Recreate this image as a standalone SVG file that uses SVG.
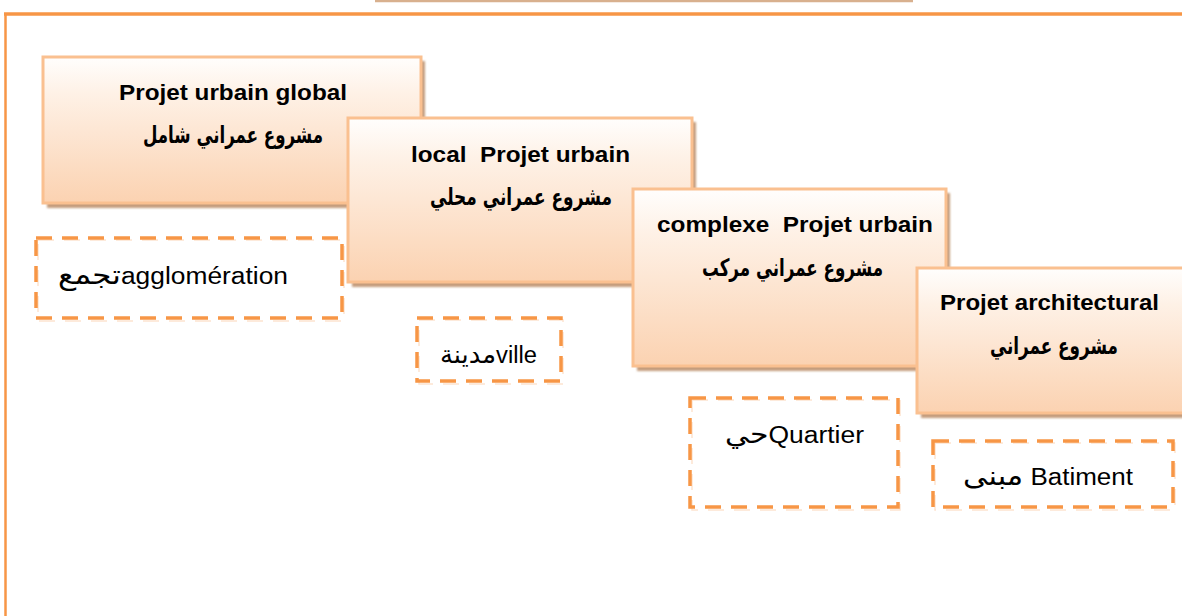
<svg xmlns="http://www.w3.org/2000/svg" width="1182" height="616" viewBox="0 0 1182 616">
<defs>
<linearGradient id="peach" x1="0" y1="0" x2="0" y2="1">
<stop offset="0" stop-color="#fffefd"/>
<stop offset="0.25" stop-color="#fef1e6"/>
<stop offset="1" stop-color="#fbd2b1"/>
</linearGradient>
<filter id="blur" x="-5%" y="-5%" width="110%" height="110%"><feGaussianBlur stdDeviation="1"/></filter>
</defs>
<style>
.box{fill:url(#peach);stroke:#fac090;stroke-width:3}
.shadow{fill:#c59d7d;filter:url(#blur)}
.dash{fill:none;stroke:#f79646;stroke-width:3.5;stroke-dasharray:16 10}
.dshadow{fill:none;stroke:#fde3cf;stroke-width:1.5;stroke-dasharray:16 10}
.lat{font-family:"Liberation Sans",Arial,sans-serif;font-weight:bold;font-size:22px;fill:#000}
.ar{font-family:"DejaVu Sans","Noto Sans",sans-serif;font-weight:bold;font-size:24px;fill:#000}
.lbl{font-family:"Liberation Sans","DejaVu Sans",sans-serif;font-size:23px;fill:#000}
</style>
<rect width="1182" height="616" fill="#ffffff"/>
<g id="frame">
<line x1="375" y1="1" x2="913" y2="1" stroke="#d8b08e" stroke-width="2.5"/>
<line x1="4" y1="14" x2="1182" y2="14" stroke="#f79646" stroke-width="3.5"/>
<line x1="5.5" y1="13" x2="5.5" y2="616" stroke="#f79646" stroke-width="2.5"/>
</g>
<g id="node-global">
<rect class="shadow" x="47" y="61" width="378" height="147"/>
<rect class="box" x="43" y="57" width="378" height="146"/>
<text class="lat" x="119" y="100" textLength="228" lengthAdjust="spacingAndGlyphs">Projet urbain global</text>
<text class="ar" x="143" y="143" textLength="180" lengthAdjust="spacingAndGlyphs">مشروع عمراني شامل</text>
</g>
<g id="node-agglomeration">
<rect class="dshadow" x="38" y="240" width="306" height="81"/>
<rect class="dash" x="36" y="238" width="306" height="80"/>
<text class="lbl" x="58" y="284" font-size="24" textLength="230" lengthAdjust="spacingAndGlyphs"><tspan font-size="27">تجمع</tspan>agglomération</text>
</g>
<g id="node-local">
<rect class="shadow" x="352" y="122" width="344" height="165"/>
<rect class="box" x="348" y="118" width="344" height="164"/>
<text class="lat" x="411" y="162" textLength="219" lengthAdjust="spacingAndGlyphs" xml:space="preserve">local  Projet urbain</text>
<text class="ar" x="430" y="205" textLength="182" lengthAdjust="spacingAndGlyphs">مشروع عمراني محلي</text>
</g>
<g id="node-ville">
<rect class="dshadow" x="419" y="320" width="144" height="64"/>
<rect class="dash" x="417" y="318" width="144" height="63"/>
<text class="lbl" x="440" y="363" font-size="22" textLength="97" lengthAdjust="spacingAndGlyphs"><tspan font-size="25">مدينة</tspan>ville</text>
</g>
<g id="node-complexe">
<rect class="shadow" x="637" y="193" width="313" height="178"/>
<rect class="box" x="633" y="189" width="313" height="177"/>
<text class="lat" x="657" y="232" textLength="276" lengthAdjust="spacingAndGlyphs" xml:space="preserve">complexe  Projet urbain</text>
<text class="ar" x="702" y="276" textLength="181" lengthAdjust="spacingAndGlyphs">مشروع عمراني مركب</text>
</g>
<g id="node-quartier">
<rect class="dshadow" x="692" y="400" width="208" height="110"/>
<rect class="dash" x="690" y="398" width="208" height="109"/>
<text class="lbl" x="725" y="443" font-size="22" textLength="139" lengthAdjust="spacingAndGlyphs"><tspan font-size="26">حي</tspan>Quartier</text>
</g>
<g id="node-architectural">
<rect class="shadow" x="921" y="272" width="280" height="146"/>
<rect class="box" x="917" y="268" width="280" height="145"/>
<text class="lat" x="940" y="310" textLength="219" lengthAdjust="spacingAndGlyphs">Projet architectural</text>
<text class="ar" x="990" y="354" textLength="128" lengthAdjust="spacingAndGlyphs">مشروع عمراني</text>
</g>
<g id="node-batiment">
<rect class="dshadow" x="935" y="443" width="240" height="67"/>
<rect class="dash" x="933" y="441" width="240" height="66"/>
<text class="lbl" x="963" y="485" font-size="24" textLength="170" lengthAdjust="spacingAndGlyphs"><tspan font-size="27">مبنى</tspan> Batiment</text>
</g>
<g id="connectors"></g>
</svg>
